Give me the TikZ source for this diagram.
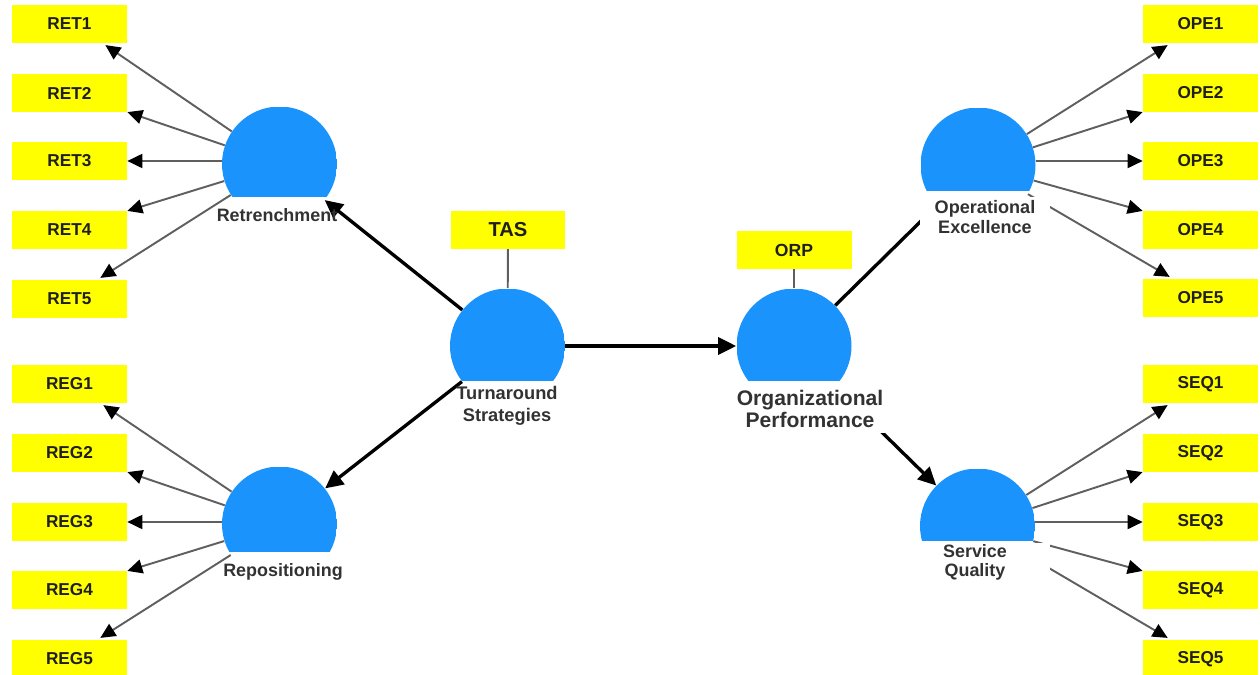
\documentclass[tikz,border=0pt]{standalone}
\usepackage{fontspec}
\setmainfont{Liberation Sans}
\usetikzlibrary{arrows.meta,calc}
\definecolor{cblue}{RGB}{26,148,252}
\definecolor{cyel}{RGB}{255,255,0}
\definecolor{indgray}{RGB}{95,95,95}
\definecolor{lblgray}{RGB}{50,50,50}
\begin{document}
\begin{tikzpicture}[x=0.02cm,y=-0.02cm,
  indbox/.style={fill=cyel, minimum width=2.3cm, minimum height=0.75cm, inner sep=0pt,
    font=\fontsize{9.8}{11}\selectfont\bfseries, text=black!88},
  latent/.style={circle, inner sep=0pt, minimum size=2.3cm,
    path picture={\fill[cblue] ([yshift=#1]path picture bounding box.south west) rectangle (path picture bounding box.north east);}},
  lvname/.style={font=\fontsize{10.2}{11.5}\selectfont\bfseries, text=lblgray, align=center, inner sep=0pt},
  loading/.style={draw=indgray, line width=1.1pt, -{Triangle[length=0.3cm,width=0.28cm,color=black]}},
  tick/.style={draw=indgray, line width=1.1pt},
  struct/.style={draw=black, line width=1.9pt, -{Triangle[length=0.36cm,width=0.34cm]}},
  structline/.style={draw=black, line width=1.9pt},
]
\useasboundingbox (0,0) rectangle (1260,675);

% indicator boxes, left
\node[indbox] (ret1) at (69.5,24) {RET1};
\node[indbox] (ret2) at (69.5,93) {RET2};
\node[indbox] (ret3) at (69.5,161) {RET3};
\node[indbox] (ret4) at (69.5,230) {RET4};
\node[indbox] (ret5) at (69.5,299) {RET5};
\node[indbox] (reg1) at (69.5,384) {REG1};
\node[indbox] (reg2) at (69.5,453) {REG2};
\node[indbox] (reg3) at (69.5,522) {REG3};
\node[indbox] (reg4) at (69.5,590) {REG4};
\node[indbox] (reg5) at (69.5,659) {REG5};
% indicator boxes, right
\node[indbox] (ope1) at (1200.5,24) {OPE1};
\node[indbox] (ope2) at (1200.5,93) {OPE2};
\node[indbox] (ope3) at (1200.5,161) {OPE3};
\node[indbox] (ope4) at (1200.5,230) {OPE4};
\node[indbox] (ope5) at (1200.5,298) {OPE5};
\node[indbox] (seq1) at (1200.5,384) {SEQ1};
\node[indbox] (seq2) at (1200.5,453) {SEQ2};
\node[indbox] (seq3) at (1200.5,522) {SEQ3};
\node[indbox] (seq4) at (1200.5,590) {SEQ4};
\node[indbox] (seq5) at (1200.5,659) {SEQ5};
% single indicators
\node[indbox, font=\fontsize{11.5}{13}\selectfont\bfseries] (tas) at (508,230) {TAS};
\node[indbox, font=\fontsize{10}{12}\selectfont\bfseries] (orp) at (794,250) {ORP};

% latent variables
\node[latent=0.48cm] (retr) at (279.5,164) {};
\node[latent=0.58cm] (repo) at (279.5,524) {};
\node[latent=0.45cm] (turn) at (507.5,346) {};
\node[latent=0.45cm] (orgp) at (794,346) {};
\node[latent=0.63cm] (opex) at (978,165) {};
\node[latent=0.85cm] (serq) at (977.5,526) {};

% loadings
\draw[loading] (retr) -- ($(ret1.south east)+(-22,2)$);
\draw[loading] (retr) -- (ret2.south east);
\draw[loading] (retr.west |- ret3.east) -- (ret3.east);
\draw[loading] (retr) -- (ret4.north east);
\draw[loading] (retr) -- ($(ret5.north east)+(-27,-2)$);
\draw[loading] (repo) -- ($(reg1.south east)+(-24,2)$);
\draw[loading] (repo) -- (reg2.south east);
\draw[loading] (repo.west |- reg3.east) -- (reg3.east);
\draw[loading] (repo) -- (reg4.north east);
\draw[loading] (repo) -- ($(reg5.north east)+(-27,-2)$);
\draw[loading] (opex) -- ($(ope1.south west)+(25,2)$);
\draw[loading] (opex) -- (ope2.south west);
\draw[loading] (opex.east |- ope3.west) -- (ope3.west);
\draw[loading] (opex) -- (ope4.north west);
\draw[loading] (opex) -- ($(ope5.north west)+(27,-2)$);
\draw[loading] (serq) -- ($(seq1.south west)+(25,2)$);
\draw[loading] (serq) -- (seq2.south west);
\draw[loading] (serq.east |- seq3.west) -- (seq3.west);
\draw[loading] (serq) -- (seq4.north west);
\draw[loading] (serq) -- ($(seq5.north west)+(25,-2)$);
\draw[tick] (tas) -- (turn);
\draw[tick] (orp) -- (orgp);

% structural paths
\draw[struct] (turn) -- (retr);
\draw[struct] (turn) -- (repo);
\draw[struct] (turn) -- (orgp);
\draw[structline] (orgp) -- (opex);
\draw[struct] (orgp) -- (serq);

% latent variable names
\node[lvname] (retrl) at (277,215) {Retrenchment};
\node[lvname] (repol) at (283,572) {Repositioning};
\node[lvname, font=\fontsize{10.4}{12.5}\selectfont\bfseries] (turnl) at (507,406) {Turnaround\\Strategies};
\node[lvname, fill=white, minimum width=3.08cm, minimum height=0.96cm,
  font=\fontsize{12}{12.5}\selectfont\bfseries] (orgpl) at (810,409) {Organizational\\Performance};
\node[lvname, fill=white, minimum width=2.6cm, minimum height=0.8cm,
  font=\fontsize{10.3}{11.3}\selectfont\bfseries] (opexl) at (985,217) {Operational\\Excellence};
\node[lvname, fill=white, minimum width=3.0cm, minimum height=0.8cm,
  font=\fontsize{10.2}{10.8}\selectfont\bfseries] (serql) at (975,562.5) {Service\\Quality};
\end{tikzpicture}
\end{document}
